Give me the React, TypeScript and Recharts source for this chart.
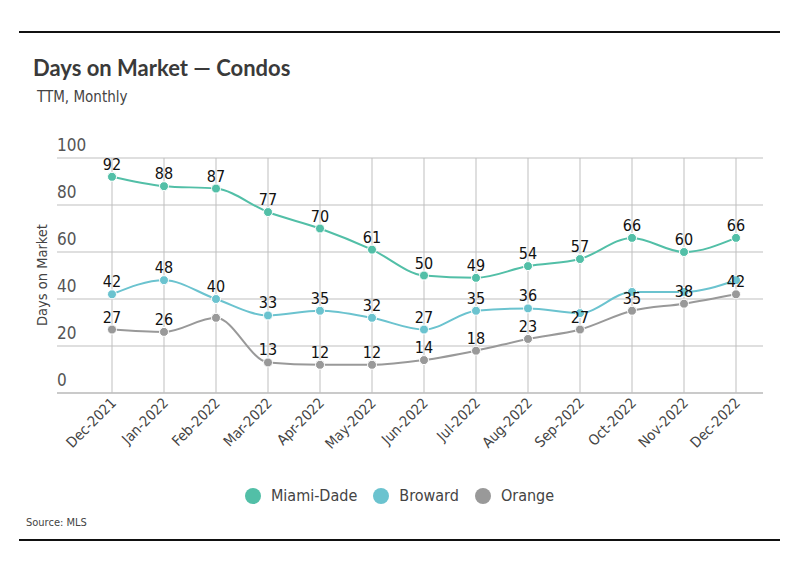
import React from "react";
import { LineChart, Line, XAxis, YAxis, CartesianGrid } from "recharts";

const months = [
  "Dec-2021", "Jan-2022", "Feb-2022", "Mar-2022", "Apr-2022", "May-2022", "Jun-2022",
  "Jul-2022", "Aug-2022", "Sep-2022", "Oct-2022", "Nov-2022", "Dec-2022",
];
const miamiDade = [92, 88, 87, 77, 70, 61, 50, 49, 54, 57, 66, 60, 66];
const broward = [42, 48, 40, 33, 35, 32, 27, 35, 36, 34, 43, 43, 48];
const orange = [27, 26, 32, 13, 12, 12, 14, 18, 23, 27, 35, 38, 42];
// labels that the original hid where they collided with another series
const miamiDadeHidden: number[] = [];
const browardHidden = [9, 10, 11, 12];
const orangeHidden = [2];
const yTicks = [0, 20, 40, 60, 80, 100];

const NARROW = '"DejaVu Sans Condensed", "Liberation Sans Narrow", "Roboto", sans-serif';
const PLOT_LEFT = 57;
const PLOT_HEIGHT = 235;

const series = [
  { key: "miamiDade", name: "Miami-Dade", color: "#52bfa7", hidden: miamiDadeHidden },
  { key: "broward", name: "Broward", color: "#6bc3cf", hidden: browardHidden },
  { key: "orange", name: "Orange", color: "#999999", hidden: orangeHidden },
];

const data = months.map((month, i) => ({
  month,
  miamiDade: miamiDade[i],
  broward: broward[i],
  orange: orange[i],
}));

const YTick = (props: any) => (
  <text x={PLOT_LEFT} y={props.y - 7} textAnchor="start" fontSize={17} fill="#555" fontFamily={NARROW}>
    {props.payload.value}
  </text>
);

const XTick = (props: any) => {
  const ax = props.x + 5;
  const ay = 393 + 11;
  return (
    <text
      x={ax}
      y={ay}
      textAnchor="end"
      fontSize={14.5}
      fill="#444"
      fontFamily={NARROW}
      transform={`rotate(-45 ${ax} ${ay})`}
    >
      {props.payload.value}
    </text>
  );
};

const makeLabel = (hidden: number[]) => (props: any) => {
  if (hidden.includes(props.index)) return <g />;
  return (
    <text x={props.x} y={props.y - 7} textAnchor="middle" fontSize={16} fill="#111" fontFamily={NARROW}>
      {props.value}
    </text>
  );
};

export default function App() {
  return (
    <div style={{ position: "absolute", left: 0, top: 0, width: 799, height: 575, background: "#fff" }}>
      <div style={{ position: "absolute", left: 19, top: 31, width: 761, height: 1.5, background: "#111" }} />
      <div
        style={{
          position: "absolute", left: 33, top: 54, fontFamily: "Lato, sans-serif", fontWeight: 700,
          fontSize: 22, color: "#3a3a3a", whiteSpace: "nowrap",
        }}
      >
        Days on Market — Condos
      </div>
      <div style={{ position: "absolute", left: 37, top: 88, fontFamily: NARROW, fontSize: 15, color: "#444" }}>
        TTM, Monthly
      </div>
      <div
        style={{
          position: "absolute", left: 42, top: 275, fontFamily: NARROW, fontSize: 14.5, color: "#444",
          transform: "translate(-50%, -50%) rotate(-90deg)", whiteSpace: "nowrap",
        }}
      >
        Days on Market
      </div>
      <div style={{ position: "absolute", left: 0, top: 0 }}>
        <LineChart width={799} height={575} data={data} margin={{ top: 158, right: 36, bottom: 102, left: 17 }}>
          <CartesianGrid stroke="#bfbfbf" strokeWidth={1} vertical={false} />
          <XAxis
            dataKey="month"
            interval={0}
            height={80}
            padding={{ left: 55, right: 27 }}
            tickLine={{ stroke: "#bfbfbf" }}
            tickSize={-PLOT_HEIGHT}
            axisLine={{ stroke: "#b5b5b5" }}
            tick={<XTick />}
          />
          <YAxis
            width={40}
            domain={[0, 100]}
            ticks={yTicks}
            axisLine={false}
            tickLine={false}
            tick={<YTick />}
          />
          {series.map((s) => (
            <Line
              key={s.key}
              type="monotone"
              dataKey={s.key}
              name={s.name}
              stroke={s.color}
              strokeWidth={2}
              dot={{ r: 4.5, fill: s.color, stroke: "#fff", strokeWidth: 1 }}
              activeDot={false}
              label={makeLabel(s.hidden)}
              isAnimationActive={false}
            />
          ))}
        </LineChart>
      </div>
      <div
        style={{
          position: "absolute", left: 0, width: 799, top: 486, display: "flex", justifyContent: "center",
          alignItems: "center", fontFamily: NARROW, fontSize: 16, color: "#444",
        }}
      >
        {series.map((s) => (
          <div key={s.key} style={{ display: "flex", alignItems: "center", margin: "0 8px" }}>
            <span
              style={{ width: 16, height: 16, borderRadius: 8, background: s.color, display: "inline-block", marginRight: 10 }}
            />
            {s.name}
          </div>
        ))}
      </div>
      <div style={{ position: "absolute", left: 26, top: 516, fontFamily: NARROW, fontSize: 11, color: "#444" }}>
        Source: MLS
      </div>
      <div style={{ position: "absolute", left: 19, top: 539, width: 761, height: 1.5, background: "#111" }} />
    </div>
  );
}
